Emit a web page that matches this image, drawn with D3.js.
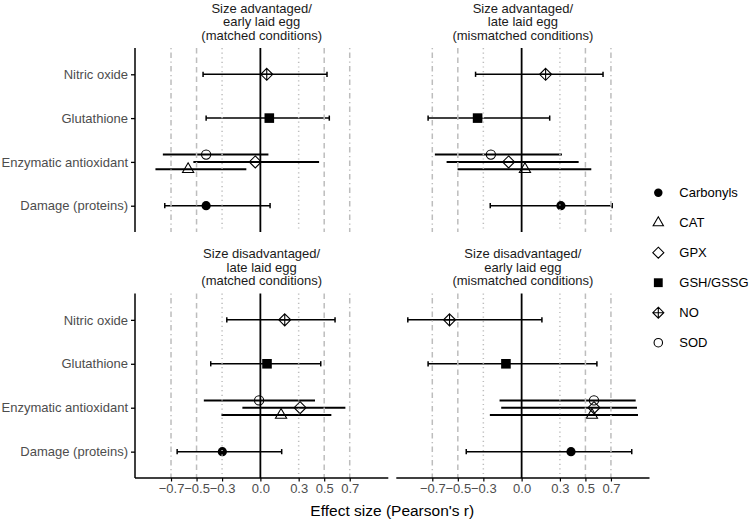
<!DOCTYPE html>
<html>
<head>
<meta charset="utf-8">
<script src="https://cdn.jsdelivr.net/npm/d3@7"></script>
<style>
html,body{margin:0;padding:0;background:#fff;}
svg{display:block;font-family:"Liberation Sans",Arial,sans-serif;}
</style>
</head>
<body>
<svg id="chart" width="750" height="520"></svg>
<script>
// ---------- data ----------
const categories = ["Damage (proteins)", "Enzymatic antioxidant", "Glutathione", "Nitric oxide"];
const measures = ["Carbonyls", "CAT", "GPX", "GSH/GSSG", "NO", "SOD"];
const measureCategory = ["Damage (proteins)", "Enzymatic antioxidant", "Enzymatic antioxidant", "Glutathione", "Nitric oxide", "Enzymatic antioxidant"];
const dodgeOrder = ["SOD", "GPX", "CAT"];
const panelTitles = [
  ["Size advantaged/", "early laid egg", "(matched conditions)"],
  ["Size advantaged/", "late laid egg", "(mismatched conditions)"],
  ["Size disadvantaged/", "late laid egg", "(matched conditions)"],
  ["Size disadvantaged/", "early laid egg", "(mismatched conditions)"]
];
// order of values follows `measures`
const est1 = [-0.425, -0.566, -0.04, 0.07, 0.05, -0.425];
const lo1  = [-0.749, -0.822, -0.525, -0.425, -0.449, -0.764];
const hi1  = [0.076, -0.11, 0.46, 0.54, 0.522, 0.063];

const est2 = [0.308, 0.026, -0.102, -0.345, 0.188, -0.241];
const lo2  = [-0.246, -0.502, -0.588, -0.733, -0.361, -0.68];
const hi2  = [0.71, 0.546, 0.447, 0.22, 0.638, 0.316];

const est3 = [-0.298, 0.162, 0.311, 0.052, 0.191, -0.01];
const lo3  = [-0.652, -0.305, -0.141, -0.389, -0.263, -0.443];
const hi3  = [0.167, 0.556, 0.666, 0.473, 0.585, 0.428];

const est4 = [0.387, 0.551, 0.567, -0.123, -0.565, 0.567];
const lo4  = [-0.434, -0.249, -0.16, -0.733, -0.892, -0.173];
const hi4  = [0.863, 0.912, 0.904, 0.59, 0.159, 0.894];

const xTicks = [-0.7, -0.5, -0.3, 0.0, 0.3, 0.5, 0.7];
const refLines = [-0.7, -0.5, -0.3, 0.3, 0.5, 0.7];
const xTitle = "Effect size (Pearson's r)";

const panelData = [[est1, lo1, hi1], [est2, lo2, hi2], [est3, lo3, hi3], [est4, lo4, hi4]];

// ---------- layout ----------
const svg = d3.select("#chart");
const colX = [[135, 388.3], [396.3, 649.5]];
const rowY = [[48, 232], [293.5, 478]];
const GREY = "#bdbdbd";

const allVals = panelData.flatMap(p => p[1].concat(p[2]));
const mn = d3.min(allVals), mx = d3.max(allVals);
const pad = (mx - mn) * 0.05;
const domain = [mn - pad, mx + pad];

function dashFor(v) {
  const a = Math.abs(v);
  if (a === 0.3) return "1.2,3.4";
  if (a === 0.5) return "5.5,4";
  return "1.2,3.4,5.5,3.4";
}

function shapePath(m, s) {
  s = s || 1;
  switch (m) {
    case "CAT": {
      const h = 5.6 * s;
      return `M${-h},${h*0.58}L${h},${h*0.58}L0,${-h*1.15}Z`;
    }
    case "GPX":
    case "NO": {
      const r = 6 * s;
      let p = `M0,${-r}L${r},0L0,${r}L${-r},0Z`;
      if (m === "NO") p += `M0,${-r}L0,${r}M${-r},0L${r},0`;
      return p;
    }
    case "GSH/GSSG": {
      const h = 4.8 * s;
      return `M${-h},${-h}H${h}V${h}H${-h}Z`;
    }
    default: {
      const r = 4.6 * s;
      return `M${r},0A${r},${r} 0 1,1 ${-r},0A${r},${r} 0 1,1 ${r},0Z`;
    }
  }
}
function isFilled(m) { return m === "Carbonyls" || m === "GSH/GSSG"; }

panelData.forEach((pd, i) => {
  const col = i % 2, row = Math.floor(i / 2);
  const [x0, x1] = colX[col];
  const [y0, y1] = rowY[row];
  const x = d3.scaleLinear().domain(domain).range([x0, x1]);
  const y = d3.scalePoint().domain(categories).range([y1, y0]).padding(0.6);
  const dodge = d3.scalePoint().domain(dodgeOrder).range([-7.3, 7.3]);
  const g = svg.append("g");

  const rows = measures.map((m, k) => {
    const cat = measureCategory[k];
    const dodged = dodgeOrder.includes(m);
    return { m, est: pd[0][k], lo: pd[1][k], hi: pd[2][k],
             yy: y(cat) + (dodged ? dodge(m) : 0), dodged };
  });

  // error bars
  rows.forEach(r => {
    g.append("line").attr("x1", x(r.lo)).attr("x2", x(r.hi))
      .attr("y1", r.yy).attr("y2", r.yy)
      .attr("stroke", "#000").attr("stroke-width", r.dodged ? 2 : 1.5);
    if (!r.dodged) {
      [r.lo, r.hi].forEach(v => {
        g.append("line").attr("x1", x(v)).attr("x2", x(v))
          .attr("y1", r.yy - 2.6).attr("y2", r.yy + 2.6)
          .attr("stroke", "#000").attr("stroke-width", 1.5);
      });
    }
  });
  // points
  rows.forEach(r => {
    g.append("path").attr("d", shapePath(r.m))
      .attr("transform", `translate(${x(r.est)},${r.yy})`)
      .attr("fill", isFilled(r.m) ? "#000" : "none")
      .attr("stroke", "#000").attr("stroke-width", isFilled(r.m) ? 0 : 1.1);
  });
  // reference lines (drawn on top)
  refLines.forEach(v => {
    g.append("line").attr("x1", x(v)).attr("x2", x(v)).attr("y1", y0).attr("y2", y1)
      .attr("stroke", GREY).attr("stroke-width", 1.5)
      .attr("stroke-dasharray", dashFor(v));
  });
  g.append("line").attr("x1", x(0)).attr("x2", x(0)).attr("y1", y0).attr("y2", y1)
    .attr("stroke", "#000").attr("stroke-width", 1.8);

  // y axis on left column
  if (col === 0) {
    const ax = g.append("g").attr("transform", `translate(${x0},0)`)
      .call(d3.axisLeft(y).tickSize(4).tickSizeOuter(0).tickPadding(3));
    ax.select(".domain").attr("stroke", "#000").attr("stroke-width", 1.5)
      .attr("d", `M0,${y0}V${y1}`);
    ax.selectAll(".tick line").attr("stroke", "#000").attr("stroke-width", 1.3);
    ax.selectAll(".tick text").attr("fill", "#4d4d4d")
      .style("font-size", "13px").style("font-family", "Liberation Sans, Arial, sans-serif");
  }
  // x axis on bottom row
  if (row === 1) {
    const ax = g.append("g").attr("transform", `translate(0,${y1})`)
      .call(d3.axisBottom(x).tickValues(xTicks).tickFormat(d3.format(".1f"))
        .tickSize(3.5).tickSizeOuter(0).tickPadding(2.5));
    ax.select(".domain").attr("stroke", "#000").attr("stroke-width", 1.5)
      .attr("d", `M${x0},0H${x1}`);
    ax.selectAll(".tick line").attr("stroke", "#000").attr("stroke-width", 1.2);
    ax.selectAll(".tick text").attr("fill", "#4d4d4d")
      .style("font-size", "13px").style("font-family", "Liberation Sans, Arial, sans-serif");
  }

  // panel title
  const t = svg.append("text").attr("text-anchor", "middle")
    .attr("fill", "#1a1a1a").style("font-size", "13px");
  panelTitles[i].forEach((line, j) => {
    t.append("tspan").attr("x", (x0 + x1) / 2)
      .attr("y", y0 - 8.5 - (2 - j) * 13.5).text(line);
  });
});

// x axis title
svg.append("text").attr("x", (colX[0][0] + colX[1][1]) / 2).attr("y", 516)
  .attr("text-anchor", "middle").attr("fill", "#000")
  .style("font-size", "15.5px").text(xTitle);

// legend
const leg = svg.append("g");
measures.forEach((m, k) => {
  const yy = 192.7 + k * 30;
  leg.append("path").attr("d", shapePath(m, 0.92))
    .attr("transform", `translate(658.3,${yy})`)
    .attr("fill", isFilled(m) ? "#000" : "none")
    .attr("stroke", "#000").attr("stroke-width", isFilled(m) ? 0 : 1.1);
  leg.append("text").attr("x", 679.3).attr("y", yy).attr("dy", "0.36em")
    .attr("fill", "#000").style("font-size", "13px").text(m);
});
</script>
</body>
</html>
